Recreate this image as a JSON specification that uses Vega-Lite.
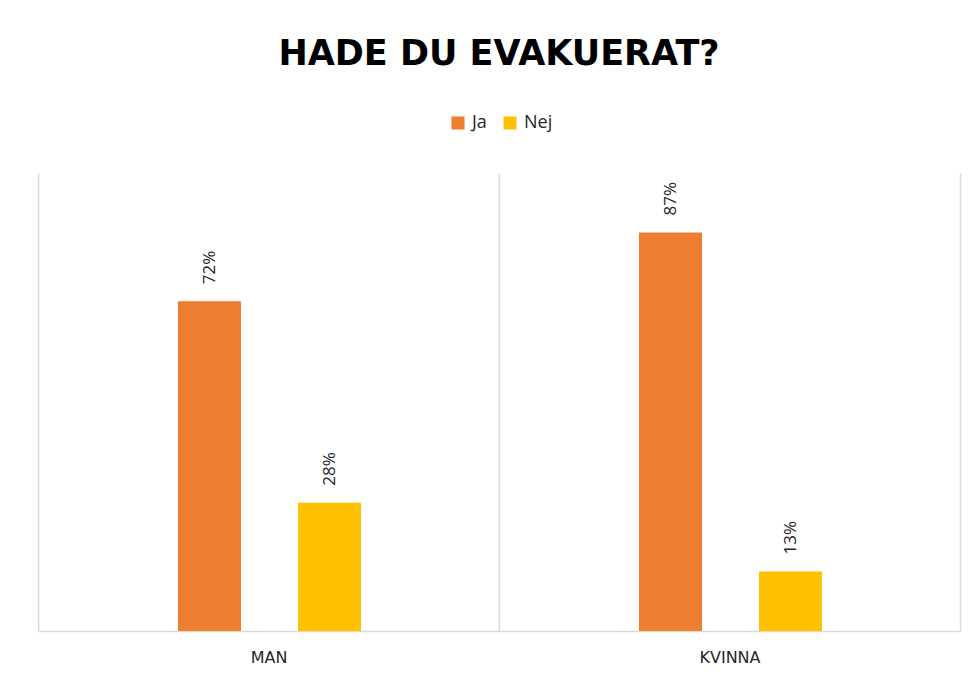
{
  "$schema": "https://vega.github.io/schema/vega-lite/v6.json",
  "width": 922,
  "height": 458,
  "autosize": {"type": "none"},
  "padding": {"left": 38, "top": 173, "right": 19, "bottom": 52},
  "background": "white",
  "title": {
    "text": "HADE DU EVAKUERAT?",
    "font": "DejaVu Sans",
    "fontSize": 35,
    "fontWeight": "bold",
    "color": "#000000",
    "anchor": "middle",
    "frame": "group",
    "offset": 42
  },
  "data": {
    "values": [
      {"group": "MAN", "answer": "Ja", "value": 0.72, "label": "72%"},
      {"group": "MAN", "answer": "Nej", "value": 0.28, "label": "28%"},
      {"group": "KVINNA", "answer": "Ja", "value": 0.87, "label": "87%"},
      {"group": "KVINNA", "answer": "Nej", "value": 0.13, "label": "13%"}
    ]
  },
  "encoding": {
    "x": {
      "field": "group",
      "type": "nominal",
      "sort": ["MAN", "KVINNA"],
      "scale": {"paddingInner": 0, "paddingOuter": 0},
      "axis": {
        "title": null,
        "labelAngle": 0,
        "labelFont": "DejaVu Sans",
        "labelFontSize": 16,
        "labelColor": "#262626",
        "labelPadding": 18,
        "ticks": false,
        "domainColor": "#d9d9d9",
        "domainWidth": 1.5,
        "grid": true,
        "gridColor": "#d9d9d9",
        "gridWidth": 1.5,
        "tickBand": "extent"
      }
    },
    "xOffset": {
      "field": "answer",
      "type": "nominal",
      "sort": ["Ja", "Nej"],
      "scale": {"range": [140, 323], "paddingInner": 0.475, "paddingOuter": 0}
    },
    "y": {
      "field": "value",
      "type": "quantitative",
      "scale": {"domain": [0, 1]},
      "axis": null
    }
  },
  "layer": [
    {
      "mark": {"type": "bar"},
      "encoding": {
        "color": {
          "field": "answer",
          "type": "nominal",
          "sort": ["Ja", "Nej"],
          "scale": {"domain": ["Ja", "Nej"], "range": ["#ED7D31", "#FFC000"]},
          "legend": {
            "title": null,
            "orient": "none",
            "legendX": 411,
            "legendY": -59,
            "direction": "horizontal",
            "symbolType": "square",
            "symbolSize": 170,
            "symbolStrokeWidth": 0,
            "symbolOpacity": 1,
            "labelFont": "Open Sans",
            "labelFontSize": 18,
            "labelColor": "#262626",
            "labelOffset": 5,
            "columnPadding": 14
          }
        }
      }
    },
    {
      "mark": {
        "type": "text",
        "angle": 270,
        "align": "left",
        "baseline": "middle",
        "dx": 17,
        "font": "Open Sans",
        "fontSize": 17,
        "color": "#262626"
      },
      "encoding": {
        "text": {"field": "label"}
      }
    }
  ],
  "config": {
    "view": {"stroke": null}
  }
}
